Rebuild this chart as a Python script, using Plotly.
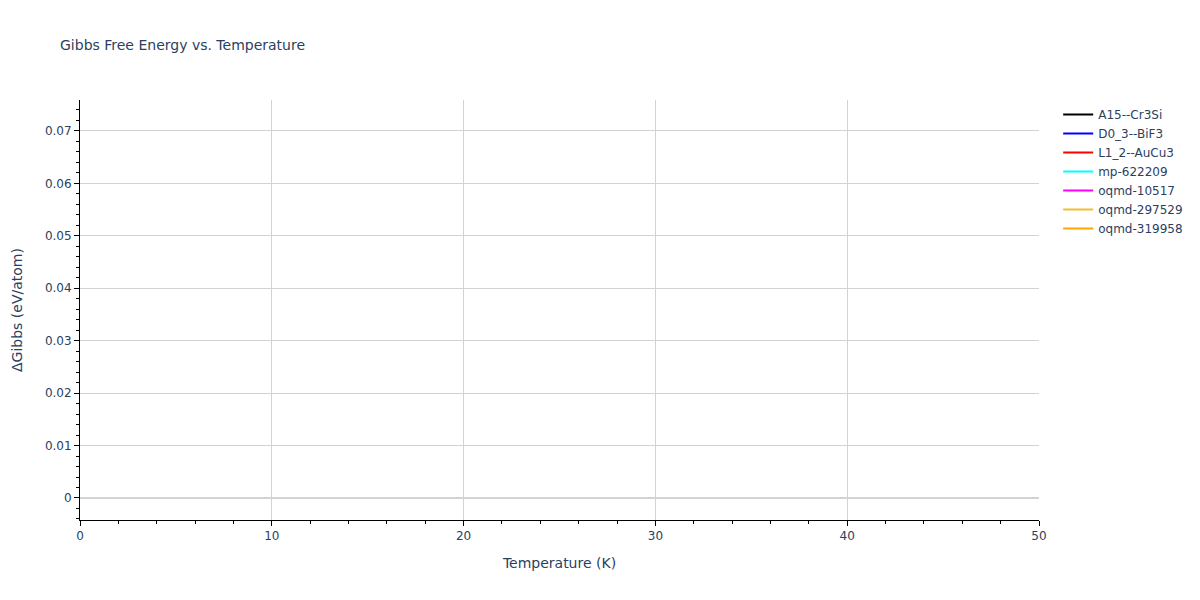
import plotly.graph_objects as go

names = ["A15--Cr3Si", "D0_3--BiF3", "L1_2--AuCu3", "mp-622209",
         "oqmd-10517", "oqmd-297529", "oqmd-319958"]
colors = ["black", "blue", "red", "cyan", "magenta", "#F0C030", "orange"]
temperature = [0]  # no visible data in the reference
dgibbs = {n: [None] for n in names}

fig = go.Figure()
for n, c in zip(names, colors):
    fig.add_trace(go.Scatter(x=temperature, y=dgibbs[n], mode="lines",
                             name=n, line=dict(color=c), showlegend=True))

axis_common = dict(showline=True, linecolor="black", linewidth=1,
                   ticks="outside", tickcolor="black",
                   gridcolor="lightgray", zeroline=True,
                   zerolinecolor="lightgray", zerolinewidth=2)
fig.update_layout(
    template="plotly_white",
    width=1200, height=600,
    font=dict(family="DejaVu Sans", size=12),
    title=dict(text="Gibbs Free Energy vs. Temperature", font=dict(size=14)),
    xaxis=dict(title="Temperature (K)", range=[0, 50], dtick=10,
               minor=dict(ticks="outside", dtick=2, tickcolor="black", showgrid=False),
               **axis_common),
    yaxis=dict(title=dict(text="ΔGibbs (eV/atom)", standoff=18), range=[-0.0042, 0.0759], dtick=0.01,
               minor=dict(ticks="outside", dtick=0.002, tickcolor="black", showgrid=False),
               **axis_common),
    showlegend=True,
)
fig.write_html("out.html", config={"displayModeBar": False},
               post_script="document.body.style.margin='0';")
